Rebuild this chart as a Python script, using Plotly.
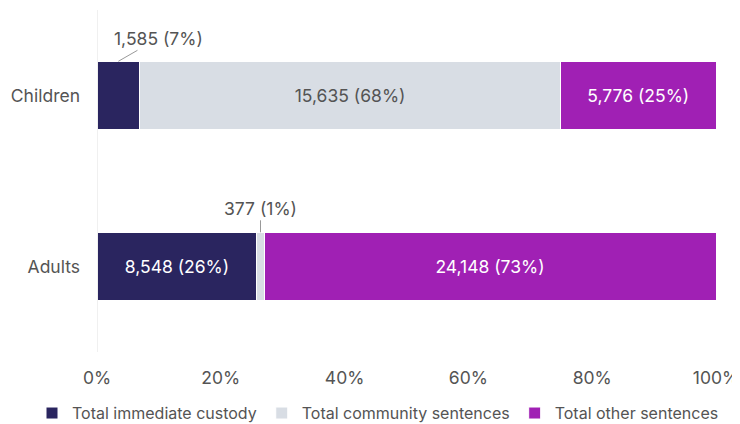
import plotly.graph_objects as go

# -----------------------------
# Data
# -----------------------------
GROUPS = ["Adults", "Children"]
CUSTODY = [8548, 1585]
COMMUNITY = [377, 15635]
OTHER = [24148, 5776]

SERIES_NAMES = [
    "Total immediate custody",
    "Total community sentences",
    "Total other sentences",
]
TICK_VALS = [0, 20, 40, 60, 80, 100]
TICK_TEXT = ["0%", "20%", "40%", "60%", "80%", "100%"]

# -----------------------------
# Colors
# -----------------------------
CUSTODY_COLOR = "#2a255f"
COMMUNITY_COLOR = "#d8dde4"
OTHER_COLOR = "#a020b4"
TEXT_COLOR = "#545454"
FONT = "Inter, Liberation Sans, Arial, sans-serif"
FS = 17.5

totals = [a + b + c for a, b, c in zip(CUSTODY, COMMUNITY, OTHER)]


def label(v, t):
    return f"{v:,} ({round(100 * v / t)}%)"


def inside_labels(values, show):
    return [label(v, t) if s else "" for v, t, s in zip(values, totals, show)]


fig = go.Figure()

series = [
    (CUSTODY, CUSTODY_COLOR, "white", [True, False]),
    (COMMUNITY, COMMUNITY_COLOR, TEXT_COLOR, [False, True]),
    (OTHER, OTHER_COLOR, "white", [True, True]),
]

for name, (vals, color, tcolor, show) in zip(SERIES_NAMES, series):
    fig.add_trace(go.Bar(
        y=GROUPS,
        x=vals,
        name=name,
        orientation="h",
        marker=dict(color=color, line=dict(color="white", width=1)),
        text=inside_labels(vals, show),
        textposition="inside",
        insidetextanchor="middle",
        textfont=dict(color=tcolor, size=FS, family=FONT),
        width=0.4,
        hoverinfo="skip",
    ))

# callouts for the small segments
child_pct = 100 * CUSTODY[1] / totals[1]
adult_pct = 100 * CUSTODY[0] / totals[0]
adult_comm = 100 * COMMUNITY[0] / totals[0]

fig.add_annotation(
    x=child_pct / 2, y=1.2, xref="x", yref="y",
    text=label(CUSTODY[1], totals[1]),
    showarrow=True, arrowhead=0, arrowwidth=1, arrowcolor="#999999",
    ax=40, ay=-23,
    font=dict(color=TEXT_COLOR, size=FS, family=FONT),
)
fig.add_annotation(
    x=adult_pct + adult_comm / 2, y=0.2, xref="x", yref="y",
    text=label(COMMUNITY[0], totals[0]),
    showarrow=True, arrowhead=0, arrowwidth=1, arrowcolor="#999999",
    ax=0, ay=-24,
    font=dict(color=TEXT_COLOR, size=FS, family=FONT),
)

# page body has an 8px margin: figure is offset, bottom part is cropped
fig.update_layout(
    width=732,
    height=430,
    barmode="stack",
    barnorm="percent",
    plot_bgcolor="white",
    paper_bgcolor="white",
    margin=dict(l=89, r=24, t=2, b=86),
    font=dict(family=FONT, color=TEXT_COLOR, size=FS),
    showlegend=True,
    legend=dict(
        orientation="h",
        x=-0.105, xanchor="left",
        y=-0.129, yanchor="top",
        font=dict(size=16, color=TEXT_COLOR),
        itemwidth=30,
        traceorder="normal",
    ),
    xaxis=dict(
        range=[0, 100],
        tickvals=TICK_VALS,
        ticktext=TICK_TEXT,
        showgrid=False,
        zeroline=False,
        showline=False,
        ticks="",
        ticklabelstandoff=13,
    ),
    yaxis=dict(
        categoryorder="array",
        categoryarray=GROUPS,
        showgrid=False,
        zeroline=False,
        showline=False,
        ticks="",
        ticklabelstandoff=16,
    ),
)

fig.add_shape(
    type="line", xref="x", yref="paper",
    x0=0, x1=0, y0=0, y1=1,
    line=dict(color="#e2e2e2", width=1),
)

fig.write_html("out.html")
